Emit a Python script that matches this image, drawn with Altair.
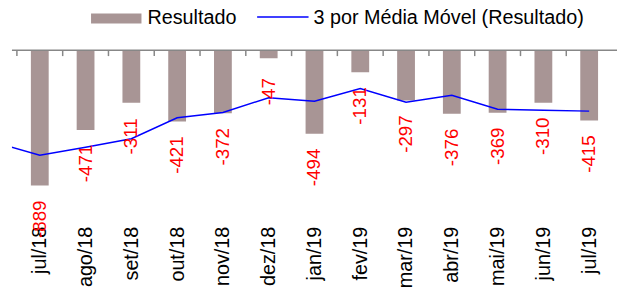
import json
import altair as alt
import pandas as pd

# ---- data ----
months = ["jul/18", "ago/18", "set/18", "out/18", "nov/18", "dez/18", "jan/19",
          "fev/19", "mar/19", "abr/19", "mai/19", "jun/19", "jul/19"]
resultado = [-889, -471, -311, -421, -372, -47, -494, -131, -297, -376, -369, -310, -415]
# 3-period moving average as drawn (starts with the month before the first bar)
mm_months = ["jun/18"] + months
mm_values = [-544, -620, -573, -523, -399, -368, -281, -302, -227, -308, -267, -349, -355, -360]

title_text = "Em milhões de US$ FOB a.m."
legend_bar = "Resultado"
legend_line = "3 por Média Móvel (Resultado)"

# ---- layout / style ----
W, H = 612, 137
YMIN = -800
FONT = "Liberation Sans"
BAR_COLOR = "#A89595"
AXIS_GRAY = "#878787"

df = pd.DataFrame({"mes": months, "idx": list(range(len(months))), "resultado": resultado})
dfl = pd.DataFrame({"mes": mm_months, "idx": list(range(-1, len(months))), "mm": mm_values})
one = pd.DataFrame({"v": [0]})

xscale = alt.Scale(domain=[-0.5, len(months) - 0.5], nice=False, zero=False)
yscale = alt.Scale(domain=[YMIN, 0], nice=False, zero=False)

label_expr = json.dumps(months, ensure_ascii=False) + "[datum.value]"

bars = alt.Chart(df).mark_bar(size=18, color=BAR_COLOR, clip=True).encode(
    x=alt.X("idx:Q", scale=xscale,
            axis=alt.Axis(values=list(range(len(months))), labelExpr=label_expr,
                          labelAngle=270, labelAlign="right", labelBaseline="middle",
                          ticks=False, tickSize=0, domain=False, grid=False,
                          labelFont=FONT, labelFontSize=20, labelColor="black",
                          labelPadding=41, labelOverlap=False, labelFlush=False,
                          labelBound=False, title=None)),
    y=alt.Y("resultado:Q", scale=yscale, axis=None),
)

line = alt.Chart(dfl).mark_line(color="#0000FF", strokeWidth=1.5, clip=True).encode(
    x=alt.X("idx:Q", scale=xscale),
    y=alt.Y("mm:Q", scale=yscale),
)

labels = alt.Chart(df).transform_calculate(
    ly=f"max(datum.resultado, {YMIN})",
    txt="toString(datum.resultado)",
).mark_text(angle=270, dx=-34, align="center", baseline="middle",
            color="#FF0000", font=FONT, fontSize=19).encode(
    x=alt.X("idx:Q", scale=xscale),
    y=alt.Y("ly:Q", scale=yscale),
    text="txt:N",
)

ticks = alt.Chart(df).transform_calculate(b="datum.idx - 0.5").mark_rule(
    color=AXIS_GRAY, strokeWidth=1.5).encode(
    x=alt.X("b:Q", scale=xscale),
    y=alt.value(0),
    y2=alt.value(6),
)

zero_line = alt.Chart(one).mark_rule(color=AXIS_GRAY, strokeWidth=1.5).encode(
    y=alt.datum(0, scale=yscale),
    x=alt.value(0),
    x2=alt.value(W),
)

key_rect = alt.Chart(one).mark_rect(color=BAR_COLOR).encode(
    x=alt.value(80), x2=alt.value(131), y=alt.value(-37), y2=alt.value(-27))
key_text1 = alt.Chart(one).mark_text(align="left", baseline="middle", font=FONT,
                                     fontSize=20, color="black", text=legend_bar).encode(
    x=alt.value(137), y=alt.value(-32))
key_line = alt.Chart(one).mark_rule(color="#0000FF", strokeWidth=1.5).encode(
    x=alt.value(248), x2=alt.value(300), y=alt.value(-33.5))
key_text2 = alt.Chart(one).mark_text(align="left", baseline="middle", font=FONT,
                                     fontSize=20, color="black", text=legend_line).encode(
    x=alt.value(305), y=alt.value(-32))
title = alt.Chart(one).mark_text(align="left", baseline="alphabetic", font=FONT,
                                 fontSize=20, color="black", text=title_text).encode(
    x=alt.value(-2), y=alt.value(-45))

chart = alt.layer(
    bars, line, labels, zero_line, ticks, key_rect, key_text1, key_line, key_text2, title
).properties(
    width=W, height=H,
    autosize=alt.AutoSizeParams(type="none"),
    padding={"left": 4, "top": 41, "right": 0, "bottom": 110},
    background="white",
).configure_view(stroke=None)

chart.save("out.html", embed_options={"renderer": "svg", "actions": False})
